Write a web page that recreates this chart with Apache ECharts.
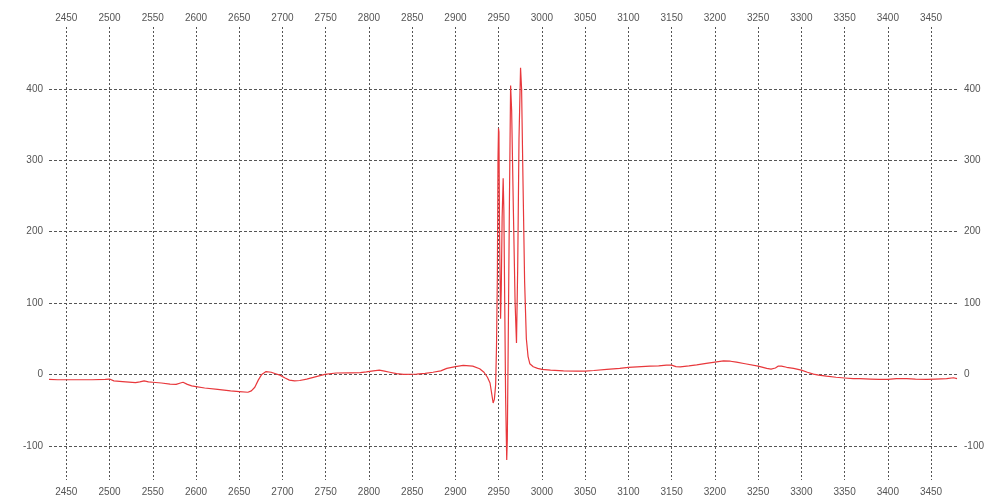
<!DOCTYPE html>
<html>
<head>
<meta charset="utf-8">
<script src="https://cdn.jsdelivr.net/npm/echarts@6/dist/echarts.min.js"></script>
<style>
html,body{margin:0;padding:0;background:#fff;}
#chart{width:988px;height:499px;}
</style>
</head>
<body>
<div id="chart"></div>
<script>
// wavenumber-like x values and signal values
var xs = [2430,2440,2460,2480,2495,2500,2505,2515,2530,2535,2540,2545,2550,2560,2570,2577,2582,2585,2590,2595,
  2600,2610,2625,2640,2650,2660,2664,2668,2672,2676,2681,2687,2692,2697,2703,2708,2714,2720,2728,2739,
  2749,2762,2778,2790,2797,2805,2812,2818,2824,2832,2840,2855,2865,2874,2883,2890,2900,2909,2920,2928,
  2933,2937,2940,2943.6,2945,2946.5,2947.5,2948.5,2949.2,2949.8,2950.3,2951,2952.2,2953,2954,2955.2,2956,2957,2958,2959.3,
  2960,2961,2962.5,2963.8,2965,2967,2969,2970.6,2972,2973.5,2975.3,2976.5,2978,2980,2982,2984,2986,2990,2995,3000,
  3010,3025,3040,3050,3060,3075,3090,3100,3110,3125,3135,3144,3150,3155,3160,3170,3179,3190,3200,3210,
  3218,3225,3235,3250,3260,3265,3270,3273,3277,3283,3291,3300,3307,3314,3320,3329,3340,3350,3360,3368,
  3380,3390,3400,3410,3422,3432,3445,3455,3468,3476,3480];
var ys = [-7,-7.5,-7.5,-7.5,-7,-6.5,-9,-10,-11.5,-10.5,-9,-10.5,-11,-12,-13.5,-14,-12,-11,-14,-16,
  -17,-19,-21,-23,-24,-25,-23,-18,-8,0,4,3,1,-1,-5,-8,-9,-8.5,-6.5,-3,
  0,2,2.3,2.5,3.5,5,6,4.5,3,1,0,0.4,1.5,3,5,8.4,11,12.6,11.6,8,
  3,-4,-12,-40,-35,-15,40,140,300,345,340,200,78,120,220,275,230,100,-30,-120,
  -90,40,250,405,370,230,100,44,150,330,430,400,280,130,50,25,15,10.7,8.5,7,
  6,5,4.6,4.7,5.5,7,8.5,9.8,10.5,11.6,12,13,13,11,10.7,12,13.5,15.5,17.3,19,
  18.5,17.3,15,11.6,8.4,7.5,9,11.5,11.6,10,8.4,6,3,0.4,-1,-2.4,-4,-5,-6,-6,
  -6.5,-7,-7,-6,-6,-6.5,-7,-6.5,-6,-4.7,-6];
var xTicks = [2450,2500,2550,2600,2650,2700,2750,2800,2850,2900,2950,3000,3050,3100,3150,3200,3250,3300,3350,3400,3450];
var yTicks = [-100,0,100,200,300,400];

var points = xs.map(function (x, i) { return [x, ys[i]]; });

function plain(v) { return String(v); }
var labelStyle = { color: '#555', fontSize: 10, fontFamily: 'Liberation Sans, Arial, sans-serif', formatter: plain };
function xAxis(pos, margin, showSplit) {
  return {
    type: 'value', position: pos, min: 2430, max: 3480,
    axisLine: { show: false }, axisTick: { show: false, customValues: xTicks },
    axisLabel: Object.assign({ customValues: xTicks, margin: margin }, labelStyle),
    splitLine: { show: showSplit, lineStyle: { color: '#555', type: [2, 2], width: 1 } }
  };
}
function yAxis(pos, margin, showSplit) {
  return {
    type: 'value', position: pos, min: -148, max: 487,
    axisLine: { show: false }, axisTick: { show: false, customValues: yTicks },
    axisLabel: Object.assign({ customValues: yTicks, margin: margin }, labelStyle),
    splitLine: { show: showSplit, lineStyle: { color: '#555', type: [3, 2], width: 1 } }
  };
}

var chart = echarts.init(document.getElementById('chart'));
chart.setOption({
  animation: false,
  backgroundColor: '#fff',
  grid: { left: 49, right: 31, top: 27, bottom: 19, containLabel: false },
  xAxis: [xAxis('bottom', 7, true), xAxis('top', 4, false)],
  yAxis: [yAxis('left', 6, true), yAxis('right', 7, false)],
  series: [{
    type: 'line', xAxisIndex: 0, yAxisIndex: 0, data: points,
    showSymbol: false, symbol: 'none', smooth: false,
    lineStyle: { color: '#e8383c', width: 1.2 }
  }]
});
</script>
</body>
</html>
